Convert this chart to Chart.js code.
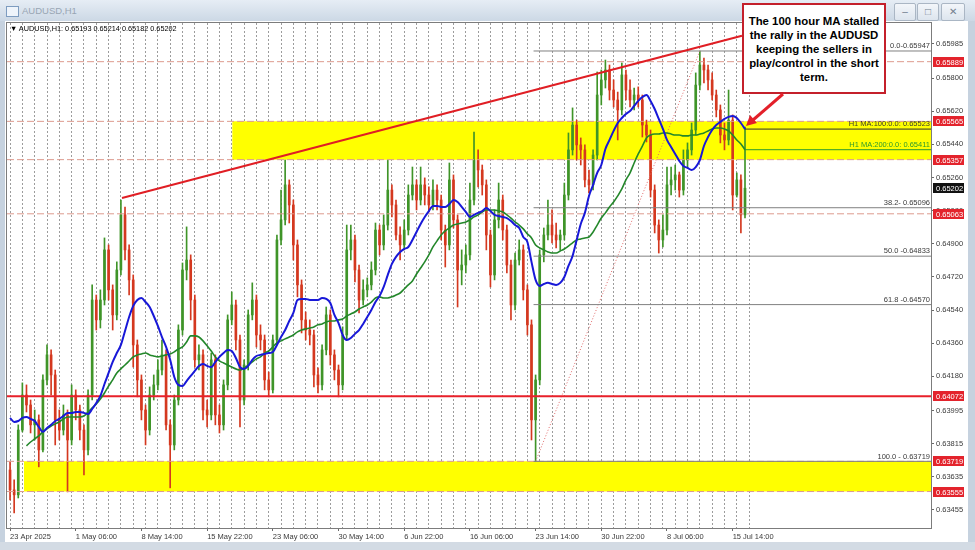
<!DOCTYPE html>
<html>
<head>
<meta charset="utf-8">
<script src="https://cdn.jsdelivr.net/npm/chart.js@4.4.1/dist/chart.umd.min.js"></script>
<style>
html,body{margin:0;padding:0;width:975px;height:550px;overflow:hidden;background:#c6d2df;font-family:"Liberation Sans",Arial,sans-serif}
#title{position:absolute;left:0;top:0;width:975px;height:21px;background:linear-gradient(#e6edf5,#ccd8e5)}
#title .txt{position:absolute;left:22px;top:5px;font-size:9.5px;color:#98a5b3}
#title .ico{position:absolute;left:6px;top:6px;width:11px;height:9px;border:1px solid #7d9cc0;background:#eef4fb}
.btn{position:absolute;top:3px;height:16px;border:1px solid #aab6c4;border-radius:2px;background:linear-gradient(#f3f6fa,#dde5ee);color:#73808f;font-size:10px;line-height:16px;text-align:center}
#inner{position:absolute;left:5px;top:21px;width:963px;height:521px;background:#ffffff}
#bottom{position:absolute;left:0;top:542px;width:975px;height:8px;background:#d3dbe4}
canvas{position:absolute;left:0;top:0;z-index:1}
#hdr{position:absolute;left:10px;top:24px;font-size:7.3px;color:#000;z-index:2;white-space:nowrap}
#note{position:absolute;left:742px;top:3px;width:140px;height:87px;border:2px solid #c4202b;background:#fff;z-index:3;
 display:flex;flex-direction:column;justify-content:center;align-items:center;font-weight:bold;font-size:11.4px;line-height:14px;color:#000;text-align:center}
svg{position:absolute;left:0;top:0;z-index:3}
</style>
</head>
<body>
<div id="title"><div class="ico"></div><div class="txt">AUDUSD,H1</div>
<div class="btn" style="left:894px;width:20px">&#8211;</div>
<div class="btn" style="left:917px;width:20px">&#9633;</div>
<div class="btn" style="left:941px;width:22px">&#10005;</div>
</div>
<div id="inner"></div>
<div id="bottom"></div>
<canvas id="c" width="975" height="550"></canvas>
<div id="hdr">&#9660; AUDUSD,H1: 0.65193 0.65214 0.65182 0.65202</div>
<div id="note"><div>The 100 hour MA stalled</div><div>the rally in the AUDUSD</div><div>keeping the sellers in</div><div>play/control in the short</div><div>term.</div></div>
<svg width="975" height="550"><line x1="783" y1="94" x2="753" y2="120" stroke="#e3202a" stroke-width="3"/><polygon points="746,126 757,123 750,115" fill="#e3202a"/></svg>
<script>
// ---- time axis ----
const timeLabels = ['23 Apr 2025','1 May 06:00','8 May 14:00','15 May 22:00','23 May 06:00','30 May 14:00','6 Jun 22:00','16 Jun 06:00','23 Jun 14:00','30 Jun 22:00','8 Jul 06:00','15 Jul 14:00'];
const barsPerLabel = 16;
const barsPerDay = 3;
// ---- price axis ----
const yTickValues = [0.65985,0.65800,0.65620,0.65440,0.65260,0.65080,0.64900,0.64720,0.64540,0.64360,0.64180,0.63995,0.63815,0.63635,0.63455];
// ---- candles (8-hour bars) ----
const firstOpen = 0.63672;
const closes = [0.63564,0.63537,0.63889,0.64079,0.64025,0.63917,0.63944,0.63781,0.64161,0.64297,
0.64188,0.63944,0.63889,0.63971,0.63835,0.64079,0.63998,0.63889,0.63781,0.64079,
0.64595,0.64487,0.64595,0.64867,0.64650,0.64514,0.64758,0.65057,0.64867,0.64704,
0.64351,0.64161,0.63998,0.63889,0.64079,0.64134,0.64215,0.64297,0.63917,0.63808,
0.64052,0.64432,0.64758,0.64812,0.64595,0.64270,0.64297,0.63998,0.63971,0.64270,
0.63971,0.63917,0.64134,0.64487,0.64568,0.64378,0.64052,0.64242,0.64514,0.64595,
0.64405,0.64378,0.64161,0.64107,0.64378,0.64921,0.65030,0.65220,0.65111,0.64894,
0.64677,0.64487,0.64432,0.64405,0.64188,0.64134,0.64324,0.64514,0.64297,0.64215,
0.64134,0.64405,0.64867,0.64921,0.64758,0.64595,0.64650,0.64677,0.64758,0.64975,
0.64894,0.65002,0.65192,0.65111,0.64948,0.64894,0.64975,0.65165,0.65220,0.65138,
0.65220,0.65165,0.65111,0.65192,0.65138,0.64975,0.64894,0.65247,0.65030,0.64758,
0.64785,0.64840,0.65138,0.65355,0.65301,0.65220,0.64948,0.64731,0.65030,0.65138,
0.64975,0.64785,0.64568,0.64812,0.64867,0.64650,0.64460,0.63944,0.64161,0.64840,
0.64948,0.65002,0.64948,0.64921,0.64948,0.65165,0.65410,0.65545,0.65437,0.65410,
0.65247,0.65220,0.65382,0.65708,0.65790,0.65844,0.65735,0.65681,0.65627,0.65817,
0.65735,0.65681,0.65708,0.65681,0.65545,0.65491,0.65192,0.65002,0.64921,0.64975,
0.65220,0.65247,0.65274,0.65192,0.65355,0.65410,0.65518,0.65762,0.65871,0.65844,
0.65790,0.65708,0.65627,0.65491,0.65464,0.65572,0.65165,0.65247,0.65057,0.65202];
const highs = [0.63716,0.63618,0.63917,0.64145,0.64134,0.64052,0.63998,0.63971,0.64188,0.64351,
0.64324,0.64215,0.63998,0.64025,0.63998,0.64134,0.64107,0.64025,0.63917,0.64107,
0.64677,0.64622,0.64650,0.64932,0.64894,0.64677,0.64802,0.65138,0.65100,0.64894,
0.64731,0.64378,0.64188,0.64025,0.64123,0.64188,0.64270,0.64378,0.64324,0.63944,
0.64079,0.64460,0.64796,0.64992,0.64840,0.64622,0.64351,0.64324,0.64052,0.64307,
0.64297,0.64025,0.64161,0.64514,0.64639,0.64595,0.64405,0.64270,0.64541,0.64688,
0.64622,0.64460,0.64405,0.64204,0.64405,0.64948,0.65192,0.65355,0.65247,0.65138,
0.64921,0.64704,0.64530,0.64487,0.64432,0.64226,0.64351,0.64557,0.64541,0.64324,
0.64242,0.64449,0.65002,0.65002,0.64948,0.64785,0.64704,0.64715,0.64802,0.65013,
0.65002,0.65057,0.65355,0.65220,0.65138,0.64992,0.65030,0.65220,0.65317,0.65247,
0.65317,0.65258,0.65209,0.65247,0.65220,0.65165,0.65002,0.65339,0.65274,0.65057,
0.64867,0.64894,0.65230,0.65507,0.65410,0.65328,0.65247,0.64975,0.65084,0.65230,
0.65165,0.65002,0.64812,0.64850,0.64921,0.64894,0.64677,0.64487,0.64188,0.64867,
0.64986,0.65138,0.65084,0.65013,0.64975,0.65230,0.65502,0.65638,0.65572,0.65475,
0.65437,0.65301,0.65410,0.65833,0.65844,0.65898,0.65871,0.65790,0.65724,0.65882,
0.65844,0.65790,0.65746,0.65752,0.65708,0.65572,0.65518,0.65220,0.65030,0.65057,
0.65317,0.65317,0.65328,0.65290,0.65410,0.65448,0.65556,0.65828,0.65947,0.65909,
0.65871,0.65828,0.65735,0.65654,0.65556,0.65735,0.65600,0.65285,0.65274,0.65534];
const lows = [0.63510,0.63439,0.63520,0.63879,0.63987,0.63873,0.63835,0.63689,0.63770,0.64134,
0.64079,0.63808,0.63835,0.63862,0.63553,0.63808,0.63944,0.63835,0.63645,0.63754,
0.64052,0.64432,0.64443,0.64568,0.64595,0.64432,0.64487,0.64731,0.64812,0.64622,
0.64231,0.64069,0.63944,0.63808,0.63862,0.64052,0.64107,0.64188,0.63889,0.63575,
0.63781,0.64025,0.64405,0.64704,0.64487,0.64231,0.64215,0.63944,0.63906,0.63944,
0.63917,0.63873,0.63889,0.64107,0.64460,0.64324,0.63906,0.64025,0.64215,0.64487,
0.64340,0.64324,0.64107,0.64069,0.64090,0.64351,0.64894,0.65002,0.65013,0.64812,
0.64612,0.64416,0.64378,0.64351,0.64123,0.64090,0.64107,0.64297,0.64242,0.64161,
0.64069,0.64107,0.64378,0.64812,0.64693,0.64525,0.64568,0.64612,0.64650,0.64731,
0.64840,0.64867,0.64975,0.65046,0.64921,0.64812,0.64867,0.64948,0.65138,0.65084,
0.65111,0.65111,0.65073,0.65084,0.65084,0.64921,0.64774,0.64867,0.64986,0.64557,
0.64677,0.64742,0.64812,0.65111,0.65209,0.65165,0.64867,0.64666,0.64704,0.64986,
0.64921,0.64742,0.64487,0.64541,0.64785,0.64595,0.64405,0.63835,0.63719,0.64134,
0.64802,0.64921,0.64905,0.64878,0.64867,0.64921,0.65138,0.65382,0.65355,0.65328,
0.65209,0.65176,0.65192,0.65355,0.65654,0.65746,0.65681,0.65643,0.65464,0.65600,
0.65681,0.65643,0.65627,0.65643,0.65480,0.65453,0.65154,0.64959,0.64850,0.64883,
0.64948,0.65165,0.65192,0.65154,0.65165,0.65317,0.65382,0.65491,0.65735,0.65773,
0.65735,0.65681,0.65589,0.65448,0.65410,0.65437,0.65084,0.65154,0.64959,0.65040];
// ---- moving averages ----
const ma100 = [0.63955,0.63933,0.63938,0.63955,0.63960,0.63949,0.63938,0.63906,0.63879,0.63900,
0.63917,0.63938,0.63949,0.63965,0.63982,0.63982,0.63987,0.63987,0.63982,0.63976,
0.64003,0.64036,0.64074,0.64139,0.64199,0.64259,0.64307,0.64351,0.64427,0.64503,
0.64563,0.64595,0.64606,0.64584,0.64557,0.64508,0.64454,0.64394,0.64340,0.64270,
0.64177,0.64134,0.64128,0.64155,0.64183,0.64210,0.64237,0.64248,0.64237,0.64231,
0.64259,0.64286,0.64307,0.64324,0.64318,0.64280,0.64231,0.64221,0.64237,0.64270,
0.64291,0.64297,0.64302,0.64307,0.64313,0.64351,0.64394,0.64432,0.64481,0.64525,
0.64595,0.64601,0.64601,0.64595,0.64595,0.64595,0.64606,0.64601,0.64579,0.64514,
0.64470,0.64405,0.64378,0.64389,0.64411,0.64432,0.64465,0.64503,0.64541,0.64584,
0.64617,0.64666,0.64731,0.64791,0.64829,0.64856,0.64872,0.64883,0.64921,0.64964,
0.65008,0.65046,0.65078,0.65106,0.65106,0.65100,0.65100,0.65116,0.65138,0.65127,
0.65100,0.65073,0.65046,0.65057,0.65068,0.65078,0.65095,0.65078,0.65057,0.65051,
0.65046,0.65040,0.65024,0.65002,0.64986,0.64937,0.64910,0.64802,0.64704,0.64671,
0.64682,0.64688,0.64682,0.64677,0.64688,0.64720,0.64780,0.64834,0.64921,0.65008,
0.65068,0.65160,0.65220,0.65285,0.65328,0.65415,0.65464,0.65513,0.65556,0.65583,
0.65605,0.65621,0.65649,0.65676,0.65697,0.65708,0.65676,0.65632,0.65578,0.65524,
0.65464,0.65426,0.65388,0.65350,0.65323,0.65312,0.65301,0.65317,0.65355,0.65431,
0.65480,0.65518,0.65545,0.65562,0.65578,0.65589,0.65594,0.65583,0.65556,0.65523];
const ma200 = [null,null,null,null,0.63803,0.63824,0.63841,0.63857,0.63879,0.63895,
0.63911,0.63922,0.63933,0.63949,0.63960,0.63960,0.63960,0.63960,0.63965,0.63987,
0.64009,0.64031,0.64058,0.64090,0.64128,0.64161,0.64199,0.64221,0.64242,0.64264,
0.64286,0.64297,0.64302,0.64307,0.64297,0.64291,0.64286,0.64291,0.64297,0.64302,
0.64313,0.64329,0.64340,0.64367,0.64400,0.64400,0.64394,0.64373,0.64346,0.64318,
0.64286,0.64264,0.64253,0.64242,0.64231,0.64221,0.64215,0.64226,0.64242,0.64259,
0.64275,0.64286,0.64307,0.64318,0.64340,0.64362,0.64373,0.64384,0.64394,0.64405,
0.64422,0.64432,0.64438,0.64443,0.64449,0.64460,0.64465,0.64476,0.64481,0.64481,
0.64487,0.64492,0.64508,0.64519,0.64530,0.64546,0.64557,0.64568,0.64584,0.64606,
0.64612,0.64606,0.64606,0.64612,0.64622,0.64633,0.64655,0.64677,0.64698,0.64736,
0.64769,0.64802,0.64840,0.64883,0.64916,0.64948,0.64970,0.64986,0.65002,0.65008,
0.65013,0.65019,0.65030,0.65046,0.65057,0.65073,0.65084,0.65084,0.65084,0.65078,
0.65073,0.65057,0.65040,0.65019,0.65002,0.64981,0.64954,0.64932,0.64894,0.64878,
0.64867,0.64856,0.64850,0.64850,0.64861,0.64872,0.64888,0.64905,0.64921,0.64926,
0.64932,0.64937,0.64964,0.65002,0.65040,0.65068,0.65100,0.65127,0.65160,0.65198,
0.65247,0.65285,0.65339,0.65388,0.65431,0.65475,0.65491,0.65496,0.65496,0.65502,
0.65502,0.65496,0.65491,0.65491,0.65486,0.65486,0.65491,0.65491,0.65496,0.65502,
0.65513,0.65524,0.65529,0.65529,0.65524,0.65513,0.65491,0.65464,0.65442,0.65411];
const maNames = ['H1 MA:100:0.0: 0.65523','H1 MA:200:0.0: 0.65411'];
// ---- drawn levels / objects ----
const dashedLevels = [0.65889,0.65565,0.65357,0.65063,0.63719,0.63555];
const solidLevels = [0.64072];
const zoneTop = [0.65565,0.63719];
const zoneBottom = [0.65357,0.63555];
const zoneStartBar = [54.1,3.4];
const fibValues = [0.65947,0.65096,0.64833,0.64570,0.63719];
const fibNames = ['0.0-0.65947','38.2- 0.65096','50.0 -0.64833','61.8 -0.64570','100.0 - 0.63719'];
const fibStartBar = 127.5;
const fibSwing = [{bar:128,price:0.63719},{bar:168,price:0.65947}];
const trendLine = [{bar:27.26,price:0.65149},{bar:178.26,price:0.66030}];
const redMarkers = [0.65889,0.65565,0.65357,0.65063,0.64072,0.63719,0.63555];
const lastPrice = 0.65202;

const X_MIN = -0.743, X_MAX = 224.3;
const UP = '#3f9428', DOWN = '#d4381f';
const opens = closes.map((c,i)=> i===0 ? firstOpen : closes[i-1]);
const colorAt = i => closes[i] >= opens[i] ? UP : DOWN;
const hline = (v, x0) => [{x:x0, y:v},{x:X_MAX, y:v}];
const nil = 'rgba(0,0,0,0)';

const datasets = [];
zoneTop.forEach((t,k)=>datasets.push({type:'line', data:hline(t, zoneStartBar[k]), borderWidth:0, pointRadius:0,
  fill:{value:zoneBottom[k]}, backgroundColor:'#ffff00', order:40}));
datasets.push({type:'bar', data:closes.map((c,i)=>({x:i, y:[lows[i], highs[i]]})), backgroundColor:c=>colorAt(c.dataIndex), barThickness:1, grouped:false, order:20});
datasets.push({type:'bar', data:closes.map((c,i)=>({x:i, y:[Math.min(opens[i],c), Math.max(opens[i],c)]})), backgroundColor:c=>colorAt(c.dataIndex), barThickness:2, grouped:false, order:19});
dashedLevels.forEach(v=>datasets.push({type:'line', data:hline(v, X_MIN), borderColor:'#dd9a8e', borderWidth:1, borderDash:[7,3], pointRadius:0, order:8}));
fibValues.forEach(v=>datasets.push({type:'line', data:hline(v, fibStartBar), borderColor:'#808080', borderWidth:1, pointRadius:0, order:7}));
datasets.push({type:'line', data:fibSwing.map(p=>({x:p.bar, y:p.price})), borderColor:'#e06a6a', borderWidth:1, borderDash:[1,2], pointRadius:0, order:7});
solidLevels.forEach(v=>datasets.push({type:'line', data:hline(v, X_MIN), borderColor:'#e8202a', borderWidth:2, pointRadius:0, order:6}));
datasets.push({type:'line', data:hline(ma100[ma100.length-1], closes.length-1), borderColor:'#303030', borderWidth:1, pointRadius:0, order:5});
datasets.push({type:'line', data:hline(ma200[ma200.length-1], closes.length-1), borderColor:'#2c9a2c', borderWidth:1, pointRadius:0, order:5});
datasets.push({type:'line', data:ma200.map((v,i)=>({x:i, y:v})), borderColor:'#23872a', borderWidth:1.6, pointRadius:0, cubicInterpolationMode:'monotone', order:4});
datasets.push({type:'line', data:ma100.map((v,i)=>({x:i, y:v})), borderColor:'#1818d8', borderWidth:2, pointRadius:0, cubicInterpolationMode:'monotone', order:3});
datasets.push({type:'line', data:trendLine.map(p=>({x:p.bar, y:p.price})), borderColor:'#e01e24', borderWidth:2, pointRadius:0, order:2});

const FONT = {family:'"Liberation Sans", Arial, sans-serif', size:7.5};
const overlay = {
  id:'overlay',
  afterDatasetsDraw(chart){
    const {ctx, chartArea:a, scales:{y}} = chart;
    ctx.save();
    ctx.font = '7.5px "Liberation Sans", Arial, sans-serif';
    ctx.textAlign = 'right'; ctx.textBaseline = 'bottom';
    ctx.fillStyle = '#3a3a3a';
    fibValues.forEach((v,i)=>ctx.fillText(fibNames[i], a.right-1, y.getPixelForValue(v)-1));
    ctx.fillStyle = '#3d3d2a';
    ctx.fillText(maNames[0], a.right-1, y.getPixelForValue(ma100[ma100.length-1])-1);
    ctx.fillStyle = '#2c9a2c';
    ctx.fillText(maNames[1], a.right-1, y.getPixelForValue(ma200[ma200.length-1])-1);
    ctx.strokeStyle = '#7c7c7c'; ctx.lineWidth = 1;
    ctx.strokeRect(a.left-0.5, a.top-0.5, a.right-a.left+1, a.bottom-a.top+1);
    ctx.restore();
  },
  afterDraw(chart){
    const {ctx, chartArea:a, scales:{y}} = chart;
    ctx.save();
    ctx.font = '7.5px "Liberation Sans", Arial, sans-serif';
    ctx.textAlign = 'left'; ctx.textBaseline = 'middle';
    const box = (v, bg) => {
      const py = Math.round(y.getPixelForValue(v));
      ctx.fillStyle = bg; ctx.fillRect(a.right+2, py-5, 31, 10);
      ctx.fillStyle = '#ffffff'; ctx.fillText(v.toFixed(5), a.right+5, py+0.5);
    };
    redMarkers.forEach(v=>box(v, '#e3232c'));
    box(lastPrice, '#111111');
    ctx.restore();
  }
};

new Chart(document.getElementById('c'), {
  type:'bar',
  data:{datasets},
  options:{
    responsive:false, animation:false, devicePixelRatio:1, events:[],
    layout:{padding:{left:7, top:23, right:0, bottom:0}},
    plugins:{legend:{display:false}, tooltip:{enabled:false}},
    scales:{
      x:{type:'linear', min:X_MIN, max:X_MAX, offset:false,
        afterBuildTicks:s=>{
          const vals = new Set();
          for (let v=0; v<=closes.length; v+=barsPerDay) vals.add(v);
          timeLabels.forEach((_,k)=>vals.add(k*barsPerLabel));
          s.ticks = [...vals].sort((p,q)=>p-q).map(v=>({value:v}));
        },
        afterFit:s=>{ s.height = 22; },
        grid:{offset:false, lineWidth:1,
          color:c=> (c.tick && c.tick.value % barsPerDay === 0) ? '#9c9c9c' : nil,
          tickColor:c=> (c.tick && c.tick.value % barsPerLabel === 0) ? '#6a6a6a' : nil,
          tickLength:3, drawTicks:true},
        border:{display:false, dash:[2,2]},
        ticks:{autoSkip:false, maxRotation:0, minRotation:0, align:'start', padding:1, color:'#3a3a3a', font:FONT,
          callback:v=> (v % barsPerLabel === 0 && timeLabels[v/barsPerLabel]) ? timeLabels[v/barsPerLabel] : ''}
      },
      y:{type:'linear', position:'right', min:0.63357, max:0.66099,
        afterBuildTicks:s=>{ s.ticks = yTickValues.map(v=>({value:v})); },
        afterFit:s=>{ s.width = 44; },
        grid:{drawOnChartArea:false, drawTicks:true, tickLength:3, tickColor:'#6a6a6a'},
        border:{display:false},
        ticks:{padding:2, color:'#3a3a3a', font:FONT, callback:v=>Number(v).toFixed(5)}
      }
    }
  },
  plugins:[overlay]
});
</script>
</body>
</html>
